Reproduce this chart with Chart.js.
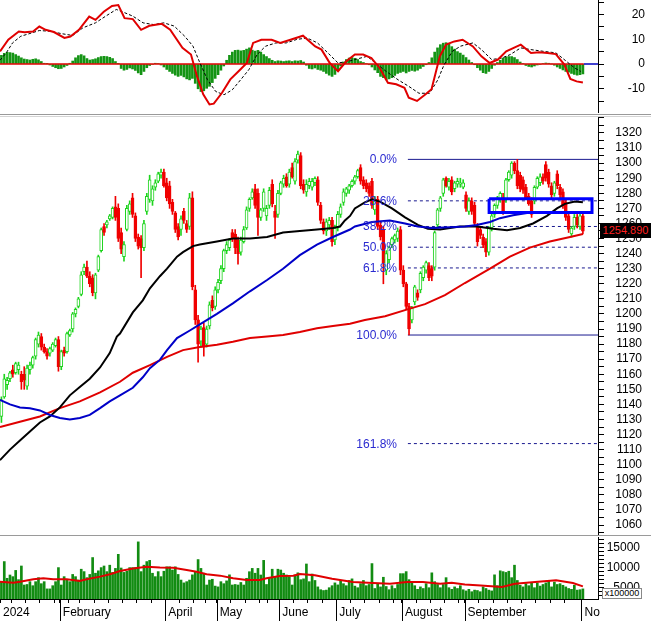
<!DOCTYPE html>
<html><head><meta charset="utf-8">
<script src="https://cdn.jsdelivr.net/npm/chart.js@4.4.1/dist/chart.umd.min.js"></script>
<style>
html,body{margin:0;padding:0;background:#fff;}
#wrap{position:relative;width:651px;height:621px;overflow:hidden;background:#fff;font-family:"Liberation Sans",Arial,sans-serif;}
canvas{position:absolute;left:0;}
.sep{position:absolute;left:0;width:651px;height:1px;}
.fib{position:absolute;color:#2b2bd0;font-size:12px;line-height:14px;text-align:right;width:60px;white-space:nowrap;}
#lastbox{position:absolute;left:600px;width:51px;height:15px;background:#000;color:#ff2020;font-size:11px;line-height:15px;text-align:center;}
#unit{position:absolute;left:602px;top:588px;width:38px;height:9px;border:1px solid #888;background:#fff;font-size:9px;line-height:9px;text-align:center;color:#000;}
</style></head><body>
<div id="wrap">
<canvas id="macd" width="651" height="113" style="top:0"></canvas>
<div class="sep" style="top:114px;background:#9a9a9a"></div>
<div class="sep" style="top:116px;background:#d4d4d4"></div>
<canvas id="price" width="651" height="418" style="top:117px"></canvas>
<div class="sep" style="top:535px;background:#9a9a9a"></div>
<canvas id="vol" width="651" height="84" style="top:537px"></canvas>
<div id="unit">x100000</div>
</div>
<script>
// ---------- DATA ----------
const opens = [
1132,1145,1153,1157,1163,1161,1163,1160,1160,1152,
1163,1166,1172,1180,1185,1178,1175,1174,1176,1179,
1183,1165,1176,1175,1186,1190,1200,1205,1213,1228,
1231,1225,1224,1214,1229,1242,1258,1259,1263,1264,
1271,1270,1254,1238,1256,1268,1277,1265,1251,1250,
1244,1268,1276,1275,1284,1288,1292,1294,1287,1285,
1274,1267,1258,1256,1268,1260,1258,1277,1216,1196,
1182,1191,1180,1192,1209,1205,1216,1222,1230,1242,
1244,1254,1253,1249,1241,1248,1257,1270,1277,1283,
1280,1264,1270,1265,1272,1286,1268,1266,1280,1286,
1291,1286,1297,1288,1302,1305,1286,1281,1285,1284,
1287,1289,1272,1261,1255,1259,1262,1249,1257,1266,
1274,1280,1282,1285,1288,1291,1297,1289,1287,1285,
1288,1269,1276,1259,1256,1229,1236,1246,1249,1250,
1256,1229,1220,1205,1196,1208,1214,1216,1224,1229,
1232,1230,1231,1259,1270,1280,1290,1284,1289,1283,
1286,1286,1284,1279,1268,1275,1272,1258,1256,1251,
1248,1241,1257,1266,1272,1276,1277,1276,1289,1292,
1300,1295,1292,1289,1284,1278,1275,1275,1284,1287,
1291,1299,1294,1285,1280,1293,1284,1281,1274,1265,
1253,1258,1264,1258,1265];
const highs = [
1145,1160,1158,1162,1166,1168,1168,1162,1165,1166,
1168,1172,1184,1188,1187,1180,1177,1178,1181,1184,
1185,1176,1178,1188,1190,1201,1204,1211,1228,1233,
1235,1228,1226,1227,1239,1257,1260,1262,1266,1271,
1278,1273,1257,1248,1272,1275,1280,1267,1253,1252,
1262,1280,1292,1285,1289,1294,1296,1296,1290,1288,
1276,1268,1260,1265,1270,1262,1280,1281,1219,1199,
1192,1194,1192,1208,1212,1218,1223,1232,1243,1248,
1250,1256,1256,1251,1251,1258,1271,1277,1283,1286,
1283,1270,1283,1272,1284,1289,1272,1282,1288,1292,
1293,1296,1300,1303,1308,1307,1289,1289,1290,1290,
1291,1291,1274,1263,1263,1264,1264,1259,1268,1273,
1283,1284,1286,1289,1292,1296,1299,1291,1289,1287,
1290,1278,1278,1261,1258,1242,1245,1251,1253,1257,
1258,1232,1221,1207,1205,1219,1216,1228,1232,1235,
1234,1232,1255,1270,1278,1290,1291,1290,1291,1288,
1290,1290,1289,1281,1277,1277,1274,1260,1258,1253,
1250,1258,1267,1273,1278,1281,1280,1290,1295,1301,
1301,1302.5,1294,1291,1286,1280,1277,1285,1291,1293,
1293,1301,1296,1287,1288,1295,1286,1283,1276,1267,
1258,1266,1266,1268,1267];
const lows = [
1128,1144,1150,1155,1158,1160,1160,1150,1150,1150,
1160,1164,1170,1178,1176,1174,1170,1172,1175,1178,
1162,1163,1172,1174,1185,1188,1198,1204,1212,1226,
1224,1218,1212,1210,1228,1241,1252,1257,1262,1263,
1262,1248,1240,1235,1255,1266,1264,1248,1243,1224,
1242,1266,1274,1272,1282,1287,1290,1284,1275,1270,
1266,1254,1249,1252,1260,1254,1256,1216,1193,1168,
1178,1172,1178,1190,1202,1203,1214,1220,1228,1240,
1242,1248,1240,1233,1239,1247,1256,1268,1276,1270,
1252,1262,1268,1262,1270,1271,1250,1264,1279,1284,
1284,1284,1290,1286,1300,1283,1280,1278,1283,1282,
1285,1272,1260,1253,1252,1256,1245,1246,1255,1264,
1272,1278,1280,1284,1286,1290,1286,1283,1281,1278,
1270,1266,1256,1249,1220,1226,1234,1244,1247,1248,
1226,1218,1203,1186,1194,1206,1209,1214,1222,1227,
1222,1222,1229,1257,1268,1278,1284,1282,1279,1281,
1284,1284,1283,1268,1266,1266,1258,1245,1250,1244,
1238,1239,1255,1264,1270,1274,1266,1274,1288,1290,
1293,1283,1281,1280,1276,1272,1264,1273,1283,1285,
1286,1288,1284,1277,1278,1283,1277,1270,1262,1254,
1251,1256,1257,1256,1253];
const closes = [
1143,1157,1156,1161,1160,1167,1166,1155,1156,1164,
1166,1171,1183,1186,1178,1175,1172,1177,1180,1183,
1165,1175,1174,1187,1189,1200,1203,1210,1226,1231,
1225,1220,1214,1226,1238,1256,1254,1261,1265,1270,
1264,1250,1243,1246,1270,1273,1266,1250,1245,1244,
1260,1278,1289,1283,1287,1293,1294,1285,1277,1273,
1268,1256,1251,1263,1262,1256,1277,1218,1196,1180,
1190,1178,1190,1206,1204,1216,1221,1230,1242,1246,
1249,1250,1244,1240,1249,1256,1269,1276,1281,1272,
1264,1269,1281,1270,1282,1273,1264,1280,1287,1290,
1285,1294,1291,1301,1306,1285,1282,1286,1288,1288,
1290,1274,1262,1255,1261,1262,1248,1257,1266,1271,
1281,1283,1285,1288,1291,1295,1288,1285,1283,1280,
1272,1276,1258,1251,1234,1240,1244,1250,1252,1255,
1229,1220,1205,1190,1204,1218,1211,1227,1231,1234,
1224,1225,1254,1269,1277,1289,1285,1288,1281,1287,
1288,1287,1287,1270,1275,1268,1260,1248,1252,1246,
1241,1257,1265,1272,1277,1280,1268,1289,1294,1300,
1295,1285,1283,1282,1277,1273,1266,1284,1290,1291,
1288,1290,1286,1279,1287,1285,1279,1272,1264,1256,
1257,1264,1259,1265,1254.89];
const volumes = [
6500,11500,7340,8160,7750,9300,7000,10400,5670,5800,
6500,5500,6500,7500,6000,6500,4700,4700,5500,6500,
10000,5670,7750,6900,6500,8300,7750,6900,9600,9000,
7500,8300,12500,8600,9200,10000,10400,9000,10600,8800,
9800,13300,9900,8800,9100,10000,10000,10000,16400,9000,
10600,11500,11800,8600,7750,9000,7750,9100,10200,10200,
9400,10200,8300,6900,6200,6500,6900,8200,9000,12000,
9800,8600,5670,6900,7100,5400,5200,6500,6000,6700,
8200,5670,5800,5670,6300,5670,7340,8980,9800,8600,
9800,8160,11800,5800,7340,9600,7750,9600,9400,8600,
8160,7750,5670,8160,8700,7000,7200,10900,6500,8400,
6800,5200,4500,4300,4400,5000,5500,6200,5700,6800,
6000,5500,6800,7200,5400,5000,6000,6800,5500,5800,
11000,4800,6000,5200,7600,5300,4500,5500,4800,5800,
8500,8500,9000,7000,6500,5500,4600,5200,4800,6000,
5000,8700,6500,5800,5000,5800,7500,5000,4600,5200,
4800,5500,4500,4200,4600,4000,4400,4300,4000,5200,
4800,4400,4200,8200,5500,9200,9000,8800,9100,7500,
10600,6800,5600,5200,6000,5500,6300,5000,6200,5400,
5800,6200,6800,5200,6400,5800,6000,5600,5200,4800,
4600,5600,4400,4500,4700];
const macdHist = [
3.5,4.3,4.7,4.6, 4.4,3.8,3.2,2.5, 2.0,1.8,1.6,1.9, 2.1,1.7,1.0,0.3, 0.1,-0.4,
-1.0,-1.5,-1.9,-1.8,-1.2,-0.6, 0.3,1.2, 2.5,3.4,3.8,3.3, 2.2,1.6,1.8,2.1,
2.6,3.0,3.1,3.0,2.7,2.2, 1.0,0.1, -1.8,-2.5,-2.2,-1.6,-2.0,-2.6, -3.6,-4.3,-3.0,
-1.5,-0.6,-0.2,0.3, 0.2,-0.4,-1.2, -2.2,-3.0,-3.8,-4.5,-5.0, -4.6,-5.2,-6.0,-6.4,-5.8,
-7.8,-10.0,-11.1, -10.8,-9.8,-9.0, -7.5,-5.8,-4.3, -2.5,-0.8,1.5, 3.5,4.8,5.5,5.6,
5.3,5.5,6.0,6.5, 5.6,5.2,5.5,4.8, 3.8,3.0,2.2,1.5, 1.0,1.3,1.2,1.0,1.2,
1.3,1.0,1.3,1.2,1.4,0.8, -0.5,-1.8,-2.0,-1.6, -2.2,-2.5,-3.0,-3.8, -4.5,-5.0,-4.2,
-2.5,-0.8,0.8, 1.8,2.4,2.6,2.3,1.8, 1.0,0.6,0.2,-0.3, -1.2,-2.4,-3.5,-5.0,-5.5,
-6.4,-6.0,-5.5,-4.6, -3.8,-3.4,-3.0,-3.6,-3.0,-2.6, -2.9,-2.5,-1.8,-1.0, -0.3,0.6,
2.5,4.8,6.5,7.8, 8.4,8.6,8.0,7.0, 6.0,5.0,4.4,3.6, 2.6,1.6,0.6,-0.3,
-1.5,-2.5,-3.5,-3.8, -3.0,-1.8,-0.5, 0.6,1.5,2.4,2.9,3.0, 3.0,2.6,1.8,
0.8,0.2,-0.6,-1.0,-1.2, -0.8,-0.4,-0.2,0.2, 0.4,0.3,0.0,-0.5,
-1.2,-1.8,-2.4,-3.0,-3.3, -3.8,-4.2,-4.5,-4.3,-4.0];
const macdLine = [[-0.5,5.1],[2.4,9.8],[6.1,13.1],[8.2,12.8],[11.1,13.1],[13.3,15.1],[15.5,13.8],[18.4,12.9],[22.1,10.5],[24.2,11.1],[27.2,13.8],[30.8,19.1],[33,17.8],[35.9,21.1],[38.8,23.4],[41,23.8],[43.2,18.5],[46.1,18.1],[49,13.8],[51.9,15.4],[56.3,16.2],[59.2,13.8],[63.5,6.5],[66.5,3.8],[68.6,-4.9],[70.8,-12.2],[73,-16.3],[74.5,-16],[77.4,-11.6],[80.3,-6.2],[83.2,-2.9],[86.1,0.4],[88.3,8.5],[91.2,9.8],[94.8,9.8],[97.8,8.5],[101.4,9.8],[105.8,11.4],[110.1,7.1],[112.3,5.8],[115.2,0.4],[118.1,-2.9],[121,1.1],[124,3.8],[126.9,3.8],[129.8,2.4],[132.7,-1.6],[135.6,-7.6],[138.5,-8.2],[141.4,-9.6],[142.9,-13.6],[145.8,-14.9],[148.7,-12.3],[150.9,-10.2],[153.8,3.1],[156,7.8],[158.9,9.1],[161.8,9.8],[165.4,7.1],[168.4,3.1],[171.3,0.4],[174.2,1.8],[177.1,5.1],[182.2,7.8],[185.8,4.4],[188.7,4.7],[191.6,4.4],[194.5,4.0],[197.5,-0.2],[199.6,-6.0],[201.8,-7.0],[204,-7.5]];
const signalLine = [[-0.5,1.5],[1.7,4.5],[3.9,8.5],[6.8,11.2],[9.7,12.2],[13.3,13.5],[17,13.2],[21.3,12.2],[25,11.5],[28.6,14.6],[33,16.6],[36.6,19.3],[40.3,22],[43.2,20.7],[46.1,19.3],[49.7,16.6],[53.4,15.9],[57,16.6],[60.6,15.3],[64.3,11.2],[67.2,7.2],[69.4,1.1],[72.3,-6.4],[75.2,-11.1],[78.1,-12.4],[81,-10.4],[83.9,-6.4],[86.8,-2.3],[89.7,3.8],[92.7,7.2],[96.3,8.5],[99.9,8.5],[103.6,9.9],[107.2,10.5],[110.9,8.5],[114.5,4.5],[118.1,0.4],[121.8,1.1],[124.7,2],[128.3,3.1],[131.2,0.4],[134.9,-2.9],[139.2,-6.4],[142.9,-9],[146.5,-11.8],[150.2,-11.8],[153.1,-6.4],[155.3,-0.3],[158.2,5.1],[161.1,7.2],[165.4,8.5],[168.4,5.8],[172,1.8],[175.6,2.4],[178.5,3.8],[182.2,6.5],[185.8,5.8],[190.2,5.1],[194.5,4.5],[198.2,1.1],[201.1,-1.6],[203.3,-3]];
const ma50 = [[-0.5,1103],[3,1110],[6.5,1116],[10,1122],[13.5,1128],[17,1132],[20.5,1138],[24,1146],[27.5,1151.5],[31,1157],[34.6,1164.5],[38,1174],[40.5,1185],[41.6,1187],[46.1,1201],[49.6,1209],[52.1,1217],[55.6,1225],[58.1,1230],[61.6,1238],[63.7,1241],[67.2,1245],[69.6,1246],[75.6,1248],[81.2,1250],[87.2,1250],[93.2,1251],[98.8,1254],[104.7,1255],[110.7,1256],[116.3,1257],[118.8,1258],[120.5,1262],[122.3,1265],[124,1270],[127.5,1274],[130,1276],[132.8,1274.5],[137,1270],[141.6,1264],[146.1,1259],[149.6,1256.5],[153.9,1256],[160.9,1258],[166.8,1258],[172.5,1256.5],[177.4,1255.5],[182,1257],[186.5,1260],[191.4,1265],[194.9,1270],[197.7,1273],[201.2,1274.5],[204,1274]];
const ma100 = [[-0.5,1143],[3,1140],[6.5,1138],[10,1137.5],[13.5,1136],[17,1133],[20.5,1131],[24,1130],[27.5,1131],[31,1133],[34.6,1137.5],[38,1142],[41.6,1146],[46.1,1151],[49.6,1158],[52.1,1164],[55.6,1169.5],[58.1,1176],[61.6,1184],[66.1,1189],[69.6,1193],[75.6,1200],[81.2,1207],[87.2,1215],[93.2,1222.5],[98.8,1230],[104.7,1239],[110.7,1246],[116.3,1251],[122.3,1256],[124,1258],[130,1261],[136.3,1262],[141.6,1260],[146.1,1258],[151,1257],[157.4,1257.5],[162.6,1258],[166.8,1259],[171.4,1261],[174.9,1263.5],[179.5,1265.5],[184.4,1267],[191.4,1267.5],[204,1267.5]];
const ma200 = [[-0.5,1125],[6.5,1128.5],[13.5,1132],[20.5,1137.5],[27.5,1142],[34.6,1148],[41.6,1155],[46.1,1161],[52.1,1166],[58.1,1171.5],[63.7,1176],[69.6,1178],[75.6,1179.5],[81.2,1181.5],[87.2,1184],[93.2,1185],[98.8,1186],[104.7,1188],[110.7,1190.5],[116.3,1192],[122.3,1193.5],[127.5,1196],[134.6,1198.5],[141.6,1202.5],[148.6,1206.5],[155.6,1212.5],[162.6,1220.5],[171.4,1230],[178.4,1238],[185.4,1244],[192.4,1248],[199.5,1251],[204,1253]];
const volMA = [[-0.5,6490],[4.2,6240],[6.5,6490],[11.2,7080],[14.7,7340],[18.2,7080],[22.9,7080],[27.5,6660],[29.9,7080],[34.6,7750],[38.1,8330],[41.6,9140],[46.2,9800],[50.9,10220],[55.6,10050],[60.3,9970],[65,9390],[68.5,8980],[72,8330],[76.7,8000],[81.3,7340],[86,6910],[90.7,6910],[93,7340],[97.7,7900],[102.4,8000],[104.7,8400],[110,8080],[116,7240],[123.3,6410],[130.4,6170],[136.3,5990],[142.3,6410],[147.9,6410],[153.9,5990],[158,6200],[162.6,5820],[168.2,5570],[175.6,5170],[180.2,5990],[187.2,6410],[194.6,6840],[200.5,6170],[204,5330]];
// Fibonacci retracement
const fibHigh = 1302.5, fibLow = 1186, fibStartDay = 142.6;
const fibRatios = [0, 0.236, 0.382, 0.5, 0.618, 1, 1.618];
const fibLabels = ['0.0%','23.6%','38.2%','50.0%','61.8%','100.0%','161.8%'];
// highlighted box (day range, price range)
const boxDays = [171.1, 207.2];
const boxPrices = [1267.2, 1276.4];
// axis ticks / labels
const monthTicks = [-0.5, 20.5, 57.5, 75.5, 97.5, 117.5, 140.5, 162.5, 203.5];
const monthLabels = ['2024','February','April','May','June','July','August','September','No'];
const weekTicks = [3.5,8.5,13.5,18.5,23.5,27.5,32.5,37.5,42.5,47.5,52.5,62.5,67.5,71.5,80.5,85.5,90.5,93.5,102.5,107.5,112.5,122.5,127.5,132.5,137.5,145.5,150.5,155.5,160.5,167.5,172.5,177.5,182.5,187.5,192.5,197.5];
const priceLabels = [1060,1070,1080,1090,1100,1110,1120,1130,1140,1150,1160,1170,1180,1190,1200,1210,1220,1230,1240,1250,1260,1270,1280,1290,1300,1310,1320];
const macdLabels = [-10,0,10,20];
const macdTicks = [-15,-10,-5,0,5,10,15,20,25];
const volLabels = [5000,10000,15000];
const volTicks = [3000,4000,5000,6000,7000,8000,9000,10000,11000,12000,13000,14000,15000,16000,17000];

// ---------- CHARTS ----------
const FONT = "'Liberation Sans', Arial, sans-serif";
Chart.defaults.font.family = FONT;
Chart.defaults.color = '#000';
Chart.defaults.animation = false;
const X_MIN = -0.5, X_MAX = 209.3;
const AXIS_X = 598;
const UP = '#1ed41e', DOWN = '#f00000';
const days = closes.map((_, i) => i);
const pts = arr => arr.map(p => ({x: p[0], y: p[1]}));
const noPad = s => { s.paddingTop = 0; s.paddingBottom = 0; s.paddingLeft = 0; s.paddingRight = 0; };

function xHidden() { return {type: 'linear', min: X_MIN, max: X_MAX, display: false, offset: false, afterFit: noPad}; }
// labels are right-aligned to the right edge of the axis box (labelRight)
function yRight(min, max, tickVals, labelVals, labelRight) {
  return {
    position: 'right', min, max, offset: false,
    afterFit(s) { s.width = labelRight - AXIS_X; noPad(s); },
    afterBuildTicks(s) { s.ticks = tickVals.map(v => ({value: v})); },
    ticks: {autoSkip: false, padding: 4, crossAlign: 'far', color: '#000', font: {size: 12},
            callback: v => labelVals.includes(v) ? String(v) : ''},
    grid: {drawOnChartArea: false, drawTicks: true, tickLength: 6, color: '#000'},
    border: {display: true, color: '#000'}
  };
}
const layoutFor = labelRight => ({padding: {left: 0, top: 0, bottom: 0, right: 651 - labelRight}});
const basePlugins = {legend: {display: false}, tooltip: {enabled: false}};
const lineDs = (data, color, width, extra) => Object.assign({type: 'line', data: pts(data), borderColor: color, borderWidth: width, pointRadius: 0, tension: 0, fill: false, order: 0}, extra || {});

// MACD panel
const MACD_R = 645;
new Chart(document.getElementById('macd'), {
  type: 'bar',
  data: {datasets: [
    {data: days.map(i => ({x: i, y: macdHist[i]})), backgroundColor: '#149414', barThickness: 2, grouped: false, order: 3},
    lineDs([[X_MIN, 0], [204.3, 0]], '#e00000', 1.5, {order: 2}),
    lineDs([[204.3, 0], [X_MAX, 0]], '#0000c0', 1.5, {order: 2}),
    lineDs(signalLine, '#000', 1, {borderDash: [3, 2], order: 1}),
    lineDs(macdLine, '#e00000', 2, {order: 0})
  ]},
  options: {responsive: false, animation: false, layout: layoutFor(MACD_R), plugins: basePlugins,
    scales: {x: xHidden(), y: yRight(-19.76, 25.81, macdTicks, macdLabels, MACD_R)}}
});

// Price panel
const PRICE_R = 642;
const fibLevels = fibRatios.map(r => fibHigh - r * (fibHigh - fibLow));
const fibDs = fibLevels.map((lv, k) => lineDs([[fibStartDay, lv], [X_MAX, lv]], '#1a1a90', 1,
  {borderDash: (fibRatios[k] === 0 || fibRatios[k] === 1) ? [] : [3, 3], order: 6}));
const isUp = i => closes[i] >= opens[i];
const priceTicks = [];
priceLabels.forEach(v => { priceTicks.push(v - 5, v); });
priceTicks.push(1325, 1330);
const priceChart = new Chart(document.getElementById('price'), {
  type: 'bar',
  data: {datasets: [
    ...fibDs,
    {data: days.map(i => ({x: i, y: [lows[i], highs[i]]})), backgroundColor: days.map(i => isUp(i) ? UP : DOWN),
     barThickness: 1, grouped: false, order: 5},
    {data: days.map(i => ({x: i, y: [opens[i], closes[i]]})), backgroundColor: days.map(i => isUp(i) ? '#ffffff' : DOWN),
     borderColor: days.map(i => isUp(i) ? UP : DOWN), borderWidth: 1, borderSkipped: false, minBarLength: 1,
     barThickness: 3, grouped: false, order: 4},
    lineDs(ma200, '#e00000', 2, {order: 2}),
    lineDs(ma100, '#0000c8', 2, {order: 1}),
    lineDs(ma50, '#000000', 2, {order: 1}),
    lineDs([[boxDays[0], boxPrices[1]], [boxDays[1], boxPrices[1]], [boxDays[1], boxPrices[0]], [boxDays[0], boxPrices[0]], [boxDays[0], boxPrices[1]]],
      '#0000ff', 3, {order: -1, borderJoinStyle: 'miter'})
  ]},
  options: {responsive: false, animation: false, layout: layoutFor(PRICE_R), plugins: basePlugins,
    scales: {x: xHidden(), y: yRight(1053.37, 1330.61, priceTicks, priceLabels, PRICE_R)}}
});

// Volume panel
const VOL_R = 640;
const monthLinesPlugin = {
  id: 'monthLines',
  afterDraw(chart) {
    const xs = chart.scales.x, ctx = chart.ctx, top = chart.chartArea.bottom;
    ctx.save(); ctx.strokeStyle = '#000'; ctx.lineWidth = 1;
    monthTicks.forEach((v, k) => {
      if (k === 0) return;
      const px = Math.round(xs.getPixelForValue(v)) + 0.5;
      ctx.beginPath(); ctx.moveTo(px, top); ctx.lineTo(px, chart.height); ctx.stroke();
    });
    ctx.restore();
  }
};
const allXTicks = monthTicks.concat(weekTicks).sort((a, b) => a - b);
new Chart(document.getElementById('vol'), {
  type: 'bar',
  data: {datasets: [
    {data: days.map(i => ({x: i, y: volumes[i]})), backgroundColor: '#128c12', barThickness: 2, grouped: false, order: 2},
    lineDs(volMA, '#e00000', 2, {order: 0})
  ]},
  options: {responsive: false, animation: false, layout: layoutFor(VOL_R), plugins: basePlugins,
    scales: {
      x: {type: 'linear', min: X_MIN, max: X_MAX, position: 'bottom', offset: false,
          afterFit(s) { s.height = 22; noPad(s); },
          afterBuildTicks(s) { s.ticks = allXTicks.map(v => ({value: v})); },
          ticks: {autoSkip: false, maxRotation: 0, minRotation: 0, align: 'start', labelOffset: 3, padding: 2,
                  color: '#000', font: {size: 12},
                  callback: v => { const k = monthTicks.indexOf(v); return k >= 0 ? monthLabels[k] : ''; }},
          grid: {drawOnChartArea: false, drawTicks: true, tickLength: 4, color: '#000', offset: false},
          border: {display: true, color: '#000'}},
      y: yRight(2189, 17612, volTicks, volLabels, VOL_R)
    }},
  plugins: [monthLinesPlugin]
});

// Overlays: fibonacci labels and last-price box, placed through the price scale
const wrap = document.getElementById('wrap');
const ys = priceChart.scales.y;
const PRICE_TOP = 117;
fibLevels.forEach((lv, k) => {
  const d = document.createElement('div');
  d.className = 'fib';
  d.textContent = fibLabels[k];
  d.style.left = (397 - 60) + 'px';
  d.style.top = (PRICE_TOP + ys.getPixelForValue(lv) - 7) + 'px';
  wrap.appendChild(d);
});
const lastClose = closes[closes.length - 1];
const lb = document.createElement('div');
lb.id = 'lastbox';
lb.textContent = lastClose.toFixed(3);
lb.style.top = (PRICE_TOP + ys.getPixelForValue(lastClose) - 8) + 'px';
wrap.appendChild(lb);
</script>
</body></html>
